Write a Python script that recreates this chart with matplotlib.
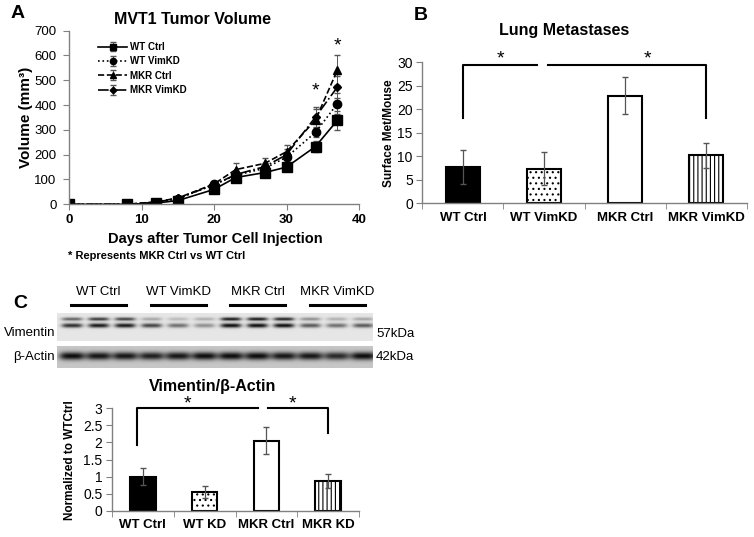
import numpy as np
import matplotlib
matplotlib.use('Agg')
import matplotlib.pyplot as plt

plt.rcParams['font.family'] = ['Liberation Sans', 'DejaVu Sans']
plt.rcParams['hatch.linewidth'] = 0.8

W, H = 754, 537

# ---- data ----
days = [0, 8, 12, 15, 20, 23, 27, 30, 34, 37]
wt_ctrl = [0, 0, 5, 15, 60, 108, 128, 150, 233, 338]
wt_ctrl_err = [0, 0, 3, 4, 8, 10, 10, 15, 22, 38]
wt_vimkd = [0, 0, 7, 22, 80, 117, 145, 190, 290, 405]
wt_vimkd_err = [0, 0, 3, 4, 8, 12, 12, 20, 18, 42]
mkr_ctrl = [0, 0, 10, 25, 82, 140, 165, 212, 340, 540]
mkr_ctrl_err = [0, 0, 3, 5, 10, 25, 22, 28, 45, 60]
mkr_vimkd = [0, 0, 8, 25, 78, 120, 152, 200, 352, 472]
mkr_vimkd_err = [0, 0, 3, 5, 8, 12, 15, 22, 40, 45]

lung_cats = ['WT Ctrl', 'WT VimKD', 'MKR Ctrl', 'MKR VimKD']
lung_vals = [7.8, 7.4, 22.9, 10.2]
lung_err = [3.6, 3.6, 3.9, 2.6]

vim_cats = ['WT Ctrl', 'WT KD', 'MKR Ctrl', 'MKR KD']
vim_vals = [1.0, 0.55, 2.05, 0.87]
vim_err = [0.25, 0.18, 0.40, 0.21]

blot_groups = ['WT Ctrl', 'WT VimKD', 'MKR Ctrl', 'MKR VimKD']
vim_upper = [0.6, 0.8, 0.75, 0.3, 0.2, 0.25, 0.95, 0.95, 0.9, 0.4, 0.25, 0.3]
vim_lower = [0.85, 0.95, 0.95, 0.75, 0.55, 0.4, 1.0, 1.0, 1.0, 0.65, 0.55, 0.65]
actin = [1.0, 0.95, 0.95, 0.9, 0.95, 1.0, 1.0, 1.0, 0.95, 0.95, 0.85, 1.0]

fig = plt.figure(figsize=(W / 100, H / 100), dpi=100)


def box(l, t, r, b):
    return [l / W, 1 - b / H, (r - l) / W, (b - t) / H]


def ftext(x, y, s, **kw):
    fig.text(x / W, 1 - y / H, s, **kw)


axis_col = '#808080'


def style_axes(ax):
    for s in ['top', 'right']:
        ax.spines[s].set_visible(False)
    for s in ['left', 'bottom']:
        ax.spines[s].set_color(axis_col)
        ax.spines[s].set_linewidth(1.0)
    ax.tick_params(colors=axis_col, labelcolor='black')


# ---- Panel A ----
axA = fig.add_axes(box(69, 30.7, 359, 204.3))
style_axes(axA)
series = [
    (wt_ctrl, wt_ctrl_err, 'WT Ctrl', '-', 's', 6.5),
    (wt_vimkd, wt_vimkd_err, 'WT VimKD', ':', 'o', 6),
    (mkr_ctrl, mkr_ctrl_err, 'MKR Ctrl', '--', '^', 6),
    (mkr_vimkd, mkr_vimkd_err, 'MKR VimKD', '-.', 'D', 4.5),
]
for vals, err, lab, ls, mk, ms in series:
    axA.errorbar(days, vals, yerr=err, color='black', ls=ls, lw=1.2,
                 marker=mk, ms=ms, capsize=2, elinewidth=0.7, ecolor='#555555',
                 label=lab)
axA.set_xlim(0, 40)
axA.set_ylim(0, 700)
axA.set_xticks([0, 10, 20, 30, 40])
axA.set_yticks(range(0, 701, 100))
axA.tick_params(axis='x', length=4, pad=3, labelsize=9.5)
axA.tick_params(axis='y', length=4, pad=5, labelsize=9.5)
for t in axA.get_xticklabels():
    t.set_fontweight('bold')
leg = axA.legend(loc='upper left', bbox_to_anchor=(0.1, 0.935), frameon=False,
                 prop={'size': 7, 'weight': 'bold'}, handlelength=3.0,
                 handletextpad=0.3, labelspacing=0.45, borderpad=0,
                 borderaxespad=0, markerscale=0.75)
axA.text(34, 455, '*', ha='center', va='center', fontsize=14)
axA.text(37, 640, '*', ha='center', va='center', fontsize=14)

ftext(18, 13, 'A', fontsize=14, fontweight='bold', ha='center', va='center')
ftext(192, 20, 'MVT1 Tumor Volume', fontsize=11.5, fontweight='bold',
      ha='center', va='center')
ftext(26, 117, 'Volume (mm³)', fontsize=11, fontweight='bold',
      rotation=90, ha='center', va='center')
ftext(215, 239, 'Days after Tumor Cell Injection', fontsize=10.5,
      fontweight='bold', ha='center', va='center')
ftext(68, 256, '* Represents MKR Ctrl vs WT Ctrl', fontsize=8,
      fontweight='bold', ha='left', va='center')


def bar_panel(ax, cats, vals, err, fs_lab):
    x = np.arange(len(cats))
    faces = ['black', 'white', 'white', 'white']
    hatches = [None, '...', None, '||||']
    for i in range(len(cats)):
        ax.bar(x[i], vals[i], width=0.41, color=faces[i], edgecolor='black',
               linewidth=1.5, hatch=hatches[i])
    ax.errorbar(x, vals, yerr=err, fmt='none', ecolor='#555555',
                elinewidth=0.9, capsize=2.5)
    ax.set_xlim(-0.5, len(cats) - 0.5)
    ax.set_xticks(x)
    ax.set_xticklabels(cats, fontsize=fs_lab, fontweight='bold')
    ax.set_xticks(np.arange(-0.5, len(cats), 1.0), minor=True)
    ax.tick_params(axis='x', which='major', length=0, pad=6)
    ax.tick_params(axis='x', which='minor', length=4, color=axis_col)


# ---- Panel B ----
axB = fig.add_axes(box(422.5, 62.3, 746.5, 203.3))
style_axes(axB)
bar_panel(axB, lung_cats, lung_vals, lung_err, 9.5)
axB.set_ylim(0, 30)
axB.set_yticks(range(0, 31, 5))
axB.tick_params(axis='y', length=4, pad=3, labelsize=10)
axB.plot([0, 0, 0.91], [18.1, 29.4, 29.4], color='black', lw=1.5,
         clip_on=False)
axB.plot([1.05, 3, 3], [29.4, 29.4, 18.1], color='black', lw=1.5,
         clip_on=False)
axB.text(0.46, 30.8, '*', ha='center', va='center', fontsize=14)
axB.text(2.28, 30.8, '*', ha='center', va='center', fontsize=14)

ftext(421, 15, 'B', fontsize=14, fontweight='bold', ha='center', va='center')
ftext(564, 31, 'Lung Metastases', fontsize=11.5, fontweight='bold',
      ha='center', va='center')
ftext(389, 133, 'Surface Met/Mouse', fontsize=8.5, fontweight='bold',
      rotation=90, ha='center', va='center')

# ---- Panel C: blot ----
ftext(20, 304, 'C', fontsize=14, fontweight='bold', ha='center', va='center')
lane_x = 72 + 26.5 * np.arange(12)


def strip(top, bottom, bg, bands):
    ax = fig.add_axes(box(57, top, 373, bottom))
    xs = np.linspace(57, 373, 632)
    ys = np.linspace(top, bottom, int((bottom - top) * 4))
    X, Y = np.meshgrid(xs, ys)
    dark = np.zeros_like(X)
    for inten, cy, hh, wx in bands:
        for i, cx in enumerate(lane_x):
            dark += inten[i] * np.exp(-((X - cx) / wx) ** 4) * \
                np.exp(-((Y - cy) / hh) ** 2)
    img = bg - np.clip(dark, 0, 1) * (bg - 0.05)
    ax.imshow(img, cmap='gray', vmin=0, vmax=1, aspect='auto',
              extent=(57, 373, bottom, top), interpolation='bilinear')
    ax.axis('off')


strip(313, 341, 0.90, [(vim_upper, 319, 1.7, 10.5), (vim_lower, 325.5, 2.2, 10.5)])
strip(346, 368, 0.78, [(actin, 356, 4.0, 12.8)])

ftext(55, 333, 'Vimentin', fontsize=9.5, ha='right', va='center')
ftext(55, 357, 'β-Actin', fontsize=9.5, ha='right', va='center')
ftext(376, 334, '57kDa', fontsize=9.5, ha='left', va='center')
ftext(376, 357, '42kDa', fontsize=9.5, ha='left', va='center')
for g, lab in enumerate(blot_groups):
    l = lane_x[3 * g] - 1
    r = lane_x[3 * g + 2] + 1
    ftext((l + r) / 2, 292, lab, fontsize=9.5, ha='center', va='center')
    fig.add_artist(plt.Line2D([l / W, r / W], [1 - 305 / H, 1 - 305 / H],
                              color='black', lw=2.2))

# ---- Panel C: bars ----
axC = fig.add_axes(box(112, 408.3, 359, 510.7))
style_axes(axC)
bar_panel(axC, vim_cats, vim_vals, vim_err, 9.5)
axC.set_ylim(0, 3)
axC.set_yticks(np.arange(0, 3.01, 0.5))
axC.set_yticklabels(['0', '0.5', '1', '1.5', '2', '2.5', '3'])
axC.tick_params(axis='y', length=4, pad=3, labelsize=10)
axC.plot([-0.1, -0.1, 1.86], [1.92, 3.0, 3.0], color='black', lw=1.5,
         clip_on=False)
axC.plot([2.03, 3, 3], [3.0, 3.0, 2.28], color='black', lw=1.5,
         clip_on=False)
axC.text(0.73, 3.12, '*', ha='center', va='center', fontsize=14)
axC.text(2.43, 3.12, '*', ha='center', va='center', fontsize=14)

ftext(213, 386, 'Vimentin/β-Actin', fontsize=11.5, fontweight='bold',
      ha='center', va='center')
ftext(70, 460, 'Normalized to WTCtrl', fontsize=8.5, fontweight='bold',
      rotation=90, ha='center', va='center')

fig.savefig('out.png', dpi=100)
